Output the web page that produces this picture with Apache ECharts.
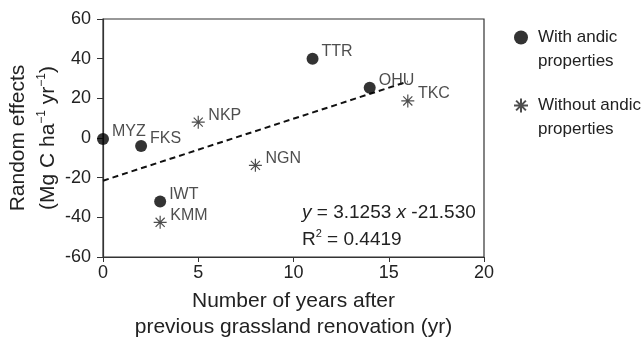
<!DOCTYPE html>
<html>
<head>
<meta charset="utf-8">
<script src="https://cdn.jsdelivr.net/npm/echarts@6/dist/echarts.min.js"></script>
<style>
  html, body { margin: 0; padding: 0; background: #fff; }
  #chart { width: 644px; height: 346px; }
</style>
</head>
<body>
<div id="chart"></div>
<script>
// 有 andic 性质的样地
const andicNames = ['MYZ', 'FKS', 'IWT', 'TTR', 'OHU']
const andicYears = [0, 2, 3, 11, 14]
const andicEffects = [-0.5, -4, -32, 40, 25.3]
// 无 andic 性质的样地
const noAndicNames = ['NKP', 'NGN', 'KMM', 'TKC']
const noAndicYears = [5, 8, 3, 16]
const noAndicEffects = [8, -13.8, -42.5, 18.7]
// 回归线两端
const trendYears = [0, 16]
const trendEffects = [-21.53, 28.47]
// 刻度
const xTicks = [0, 20, 5]
const yTicks = [-60, 60, 20]

const font = 'Liberation Sans, Arial, sans-serif'
const starPath = 'path://M0,-10L0,10M-10,0L10,0M-7,-7L7,7M-7,7L7,-7'

function pts(xs, ys, names) {
  return xs.map((x, i) => ({ value: [x, ys[i]], name: names[i] }))
}

let chart = echarts.init(document.getElementById('chart'))
let option = {
  animation: false,
  textStyle: { fontFamily: font },
  grid: { left: 103, right: 160, top: 19, bottom: 89, show: true, borderColor: '#333', borderWidth: 1.2, outerBoundsMode: 'none', containLabel: false },
  legend: {
    orient: 'vertical',
    left: 508,
    top: 24,
    itemWidth: 14,
    itemHeight: 14,
    itemGap: 51,
    textStyle: { fontFamily: font, fontSize: 17, color: '#222', padding: [0, 0, 0, 5] },
    data: ['With andic', 'Without andic']
  },
  xAxis: {
    type: 'value',
    min: xTicks[0], max: xTicks[1], interval: xTicks[2],
    name: 'Number of years after\nprevious grassland renovation (yr)',
    nameLocation: 'middle',
    nameGap: 31,
    nameMoveOverlap: false,
    nameTextStyle: { fontFamily: font, fontSize: 21, color: '#222', lineHeight: 26, verticalAlign: 'top' },
    axisLine: { onZero: false, lineStyle: { color: '#333', width: 1.2 } },
    axisTick: { length: 5, lineStyle: { color: '#333' } },
    axisLabel: { fontSize: 18, color: '#222', margin: 7 },
    splitLine: { show: false }
  },
  yAxis: {
    type: 'value',
    min: yTicks[0], max: yTicks[1], interval: yTicks[2],
    name: '{t|Random effects}\n{t|(Mg C ha}{s|−1}{t| yr}{s|−1}{t|)}',
    nameLocation: 'middle',
    nameRotate: 90,
    nameGap: 40,
    nameMoveOverlap: false,
    nameTextStyle: {
      rich: {
        t: { fontFamily: font, fontSize: 21, color: '#222', lineHeight: 30 },
        s: { fontFamily: font, fontSize: 12, color: '#222', lineHeight: 12, verticalAlign: 'top', padding: [3, 0, 0, 0] }
      }
    },
    axisLine: { onZero: false, lineStyle: { color: '#333', width: 1.2 } },
    axisTick: { length: 6, lineStyle: { color: '#333' } },
    axisLabel: { fontSize: 18, color: '#222', margin: 12 },
    splitLine: { show: false }
  },
  series: [
    {
      name: 'trend',
      type: 'line',
      data: trendYears.map((x, i) => [x, trendEffects[i]]),
      showSymbol: false,
      lineStyle: { color: '#111', width: 2, type: [6, 4] },
      z: 1
    },
    {
      name: 'With andic',
      type: 'scatter',
      symbol: 'circle',
      symbolSize: 12,
      itemStyle: { color: '#000' },
      data: pts(andicYears, andicEffects, andicNames),
      label: { show: true, position: 'right', distance: 3, offset: [0, -7], formatter: '{b}', fontSize: 16, color: '#222', fontFamily: font },
      z: 3
    },
    {
      name: 'Without andic',
      type: 'scatter',
      symbol: starPath,
      symbolSize: 13,
      itemStyle: { color: '#222', borderColor: '#222', borderWidth: 1.2 },
      data: pts(noAndicYears, noAndicEffects, noAndicNames),
      label: { show: true, position: 'right', distance: 3, offset: [0, -7], formatter: '{b}', fontSize: 16, color: '#222', fontFamily: font },
      z: 3
    }
  ],
  graphic: [
    { type: 'text', left: 538, top: 53, style: { text: 'properties', fontFamily: font, fontSize: 17, fill: '#222' } },
    { type: 'text', left: 538, top: 121, style: { text: 'properties', fontFamily: font, fontSize: 17, fill: '#222' } },
    {
      type: 'text', left: 302, top: 203,
      style: {
        text: '{i|y} = 3.1253 {i|x} -21.530',
        fontFamily: font, fontSize: 19, fill: '#222',
        rich: { i: { fontFamily: font, fontSize: 19, fontStyle: 'italic', fill: '#222' } }
      }
    },
    {
      type: 'text', left: 302, top: 228,
      style: {
        text: 'R{s|2} = 0.4419',
        fontFamily: font, fontSize: 19, fill: '#222', lineHeight: 24,
        rich: { s: { fontFamily: font, fontSize: 11, fill: '#222', lineHeight: 24, verticalAlign: 'top' } }
      }
    }
  ]
}
chart.setOption(option)
</script>
</body>
</html>
